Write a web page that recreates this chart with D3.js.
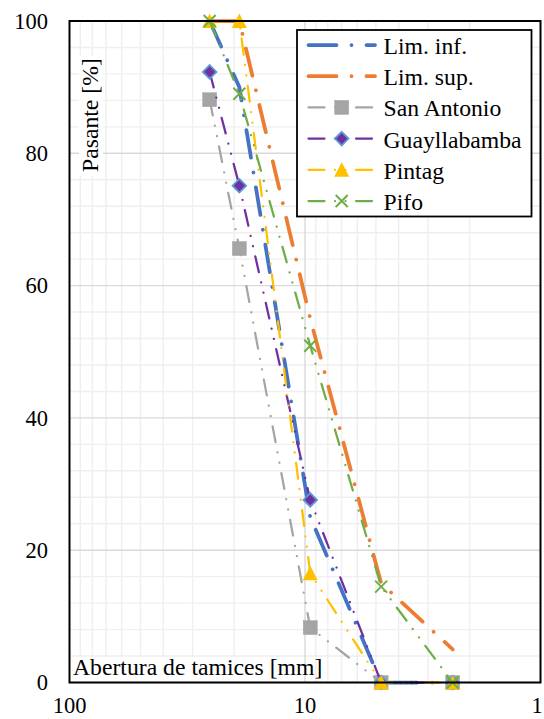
<!DOCTYPE html>
<html>
<head>
<meta charset="utf-8">
<script src="https://cdn.jsdelivr.net/npm/d3@7"></script>
<style>
  html, body { margin: 0; padding: 0; background: #fff; }
  svg { display: block; }
</style>
</head>
<body>
<svg id="chart" width="544" height="719"></svg>
<script>
// ---- data ----
const sieveSizes = [25.4, 19, 9.5, 4.75, 2.36];
const limInf = [100, 90, 25, 0, 0];
const limSup = [100, 100, 55, 15, 5];
const sanAntonio = [88.1, 65.6, 8.3, 0, 0];
const guayllabamba = [92.3, 75.1, 27.6, 0, 0];
const pintag = [100, 100, 16.5, 0, 0];
const pifo = [100, 89.0, 50.9, 14.5, 0];
const seriesNames = ["Lim. inf.", "Lim. sup.", "San Antonio", "Guayllabamba", "Pintag", "Pifo"];
const yTicks = [0, 20, 40, 60, 80, 100];
const xTicks = [100, 10, 1];
const xTitle = "Abertura de tamices [mm]";
const yTitle = "Pasante [%]";

// ---- styles ----
const FONT = "'Liberation Serif', Tinos, 'Times New Roman', 'DejaVu Serif', serif";
const seriesValues = [limInf, limSup, sanAntonio, guayllabamba, pintag, pifo];
const styles = [
  { color: "#4472C4", width: 3.75, dash: "28,15,0.01,15", marker: null },
  { color: "#ED7D31", width: 3.75, dash: "28,15,0.01,15", marker: null },
  { color: "#A5A5A5", width: 2.25, dash: "16,10.5,0.01,10.5,0.01,10.5", marker: "square" },
  { color: "#7030A0", width: 2.25, dash: "16,10.5,0.01,10.5,0.01,10.5", marker: "diamond" },
  { color: "#FFC000", width: 2.25, dash: "16,10.5,0.01,10.5,0.01,10.5", marker: "triangle" },
  { color: "#70AD47", width: 2.25, dash: "16,10.5,0.01,10.5,0.01,10.5", marker: "x" }
];

const pLeft = 69.5, pRight = 540.5, pTop = 21, pBottom = 682.5;
const svg = d3.select("#chart").attr("font-family", FONT);

const x = d3.scaleLog().domain([100, 1]).range([pLeft, pRight]);
const y = d3.scaleLinear().domain([0, 100]).range([pBottom, pTop]);

// ---- grid ----
const grid = svg.append("g");
const minorX = [];
[1, 10].forEach(dec => { for (let k = 2; k <= 9; k++) minorX.push(k * dec); });
grid.selectAll("line.mx").data(minorX).enter().append("line")
  .attr("x1", d => x(d)).attr("x2", d => x(d)).attr("y1", pTop).attr("y2", pBottom)
  .attr("stroke", "#efefef").attr("stroke-width", 1.4);
const minorY = d3.range(0, 101, 4).filter(v => v % 20 !== 0);
grid.selectAll("line.my").data(minorY).enter().append("line")
  .attr("x1", pLeft).attr("x2", pRight).attr("y1", d => y(d)).attr("y2", d => y(d))
  .attr("stroke", "#efefef").attr("stroke-width", 1.4);
grid.selectAll("line.My").data(yTicks).enter().append("line")
  .attr("x1", pLeft).attr("x2", pRight).attr("y1", d => y(d)).attr("y2", d => y(d))
  .attr("stroke", "#d9d9d9").attr("stroke-width", 1.4);
grid.append("line").attr("x1", x(10)).attr("x2", x(10)).attr("y1", pTop).attr("y2", pBottom)
  .attr("stroke", "#d9d9d9").attr("stroke-width", 1.4);

// ---- axis titles (with white boxes inside plot) ----
svg.append("rect").attr("x", pLeft + 1.5).attr("y", 657).attr("width", 231).attr("height", pBottom - 658)
  .attr("fill", "#fff");
svg.append("text").attr("x", 73).attr("y", 675).attr("font-family", FONT).attr("font-size", 23.7).text(xTitle);
svg.append("rect").attr("x", 79).attr("y", 56).attr("width", 24).attr("height", 120).attr("fill", "#fff");
svg.append("text").attr("transform", "translate(98,172) rotate(-90)").attr("font-family", FONT)
  .attr("font-size", 23.7).text(yTitle);

// ---- series ----
function drawMarker(g, type, color, cx, cy) {
  if (type === "square") {
    g.append("rect").attr("x", cx - 7).attr("y", cy - 7).attr("width", 14).attr("height", 14)
      .attr("fill", color).attr("stroke", color).attr("stroke-width", 0.5);
  } else if (type === "diamond") {
    g.append("path").attr("d", `M${cx},${cy - 6.8}L${cx + 6.8},${cy}L${cx},${cy + 6.8}L${cx - 6.8},${cy}Z`)
      .attr("fill", color).attr("stroke", "#5B9BD5").attr("stroke-width", 1.8);
  } else if (type === "triangle") {
    g.append("path").attr("d", `M${cx},${cy - 7.5}L${cx + 7.5},${cy + 7}L${cx - 7.5},${cy + 7}Z`)
      .attr("fill", color);
  } else if (type === "x") {
    g.append("path").attr("d", `M${cx - 6},${cy - 6}L${cx + 6},${cy + 6}M${cx + 6},${cy - 6}L${cx - 6},${cy + 6}`)
      .attr("stroke", color).attr("stroke-width", 2).attr("fill", "none");
  }
}

const line = d3.line().x(d => x(d[0])).y(d => y(d[1]));
seriesValues.forEach((vals, i) => {
  const st = styles[i];
  const pts = sieveSizes.map((s, j) => [s, vals[j]]);
  const g = svg.append("g");
  g.append("path").attr("d", line(pts)).attr("fill", "none")
    .attr("stroke", st.color).attr("stroke-width", st.width)
    .attr("stroke-dasharray", st.dash).attr("stroke-linecap", "round");
  if (st.marker) pts.forEach(p => drawMarker(g, st.marker, st.color, x(p[0]), y(p[1])));
});

// ---- frame ----
svg.append("rect").attr("x", pLeft).attr("y", pTop).attr("width", pRight - pLeft).attr("height", pBottom - pTop)
  .attr("fill", "none").attr("stroke", "#000").attr("stroke-width", 2);

// ---- tick labels ----
svg.selectAll("text.yt").data(yTicks).enter().append("text")
  .attr("x", 48).attr("y", d => y(d)).attr("dy", "0.35em").attr("text-anchor", "end")
  .attr("font-family", FONT).attr("font-size", 22.5).text(d => d);
svg.selectAll("text.xt").data(xTicks).enter().append("text")
  .attr("x", d => Math.min(x(d), 537)).attr("y", 713).attr("text-anchor", "middle")
  .attr("font-family", FONT).attr("font-size", 22.5).text(d => d);

// ---- legend ----
const lg = svg.append("g");
lg.append("rect").attr("x", 297).attr("y", 30).attr("width", 234.5).attr("height", 186.5)
  .attr("fill", "#fff").attr("stroke", "#000").attr("stroke-width", 1.8);
seriesNames.forEach((name, i) => {
  const st = styles[i];
  const ly = 45 + i * 31.2;
  lg.append("line").attr("x1", 308.5).attr("x2", 375).attr("y1", ly).attr("y2", ly)
    .attr("stroke", st.color).attr("stroke-width", st.width)
    .attr("stroke-dasharray", st.dash).attr("stroke-linecap", "round");
  if (st.marker) drawMarker(lg, st.marker, st.color, 341.7, ly);
  lg.append("text").attr("x", 383.5).attr("y", ly + 9).attr("font-family", FONT)
    .attr("font-size", 23.7).text(name);
});
</script>
</body>
</html>
